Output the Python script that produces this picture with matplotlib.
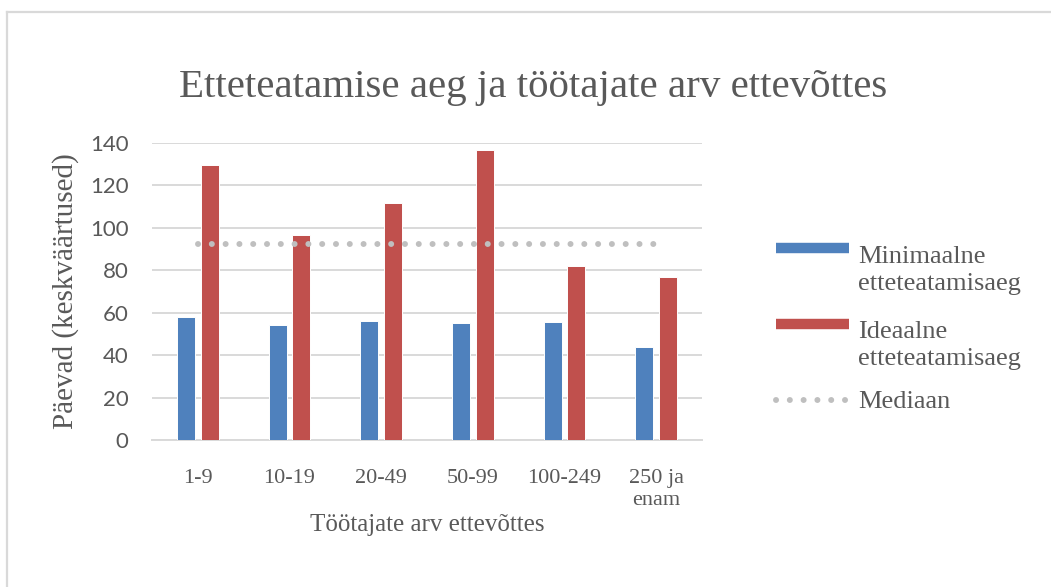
import numpy as np
import matplotlib
matplotlib.use("Agg")
import matplotlib.pyplot as plt
from matplotlib.lines import Line2D

# data
categories = ["1-9", "10-19", "20-49", "50-99", "100-249", "250 ja\nenam"]
minimaalne = [58, 54, 56, 55, 55.5, 44]
ideaalne = [129.5, 96.5, 111.5, 136.5, 82, 77]
mediaan = [92.5, 92.5, 92.5, 92.5, 92.5, 92.5]
yticks = [0, 20, 40, 60, 80, 100, 120, 140]

blue = "#4f81bd"
red = "#c0504d"
grey_txt = "#595959"
grid_col = "#d9d9d9"
serif = "Liberation Serif"

fig = plt.figure(figsize=(10.51, 5.87), dpi=100)
ax = fig.add_axes([152 / 1051, 1 - 440 / 587, 550 / 1051, 297 / 587])

x = np.arange(len(categories))
w = 0.196
ax.bar(x - 0.13, minimaalne, w, color=blue, edgecolor="white", linewidth=0.7, zorder=3)
ax.bar(x + 0.13, ideaalne, w, color=red, edgecolor="white", linewidth=0.7, zorder=3)
ax.plot(x, mediaan, color="#bfbfbf", lw=4.3, linestyle=(0, (0.01, 2.3)),
        dash_capstyle="round", zorder=4)

ax.set_xlim(-0.5, len(categories) - 0.5)
ax.set_ylim(0, 140)
ax.set_yticks(yticks)
ax.set_xticks(x)
ax.set_xticklabels(categories, fontsize=16, family=serif, color=grey_txt,
                   linespacing=1.2)
ax.set_yticklabels([str(v) for v in yticks], fontsize=16, family="Lato", color=grey_txt)
ax.tick_params(axis="both", length=0)
ax.tick_params(axis="x", pad=21)
ax.tick_params(axis="y", pad=17)

ax.yaxis.grid(True, color=grid_col, lw=1.4, zorder=0)
ax.set_axisbelow(True)
for s in ["top", "right", "left"]:
    ax.spines[s].set_visible(False)
ax.spines["bottom"].set_color(grid_col)
ax.spines["bottom"].set_linewidth(1.4)

ax.set_ylabel("Päevad (keskväärtused)", fontsize=21, family=serif, color=grey_txt)
ax.yaxis.set_label_coords(-0.158, 0.5)
ax.yaxis.label.set_va("center")
ax.set_xlabel("Töötajate arv ettevõttes", fontsize=18, family=serif, color=grey_txt)
ax.xaxis.set_label_coords(0.5, (440 - 525) / 297)
ax.xaxis.label.set_va("center")

fig.text(533 / 1051, 1 - 88 / 587, "Etteteatamise aeg ja töötajate arv ettevõttes",
         fontsize=29.5, family=serif, color=grey_txt, ha="center", va="center")

# legend drawn in figure pixels
def fx(px):
    return px / 1051

def fy(py):
    return 1 - py / 587

fig.add_artist(Line2D([fx(776), fx(849)], [fy(248), fy(248)], color=blue, lw=7.5,
                      solid_capstyle="butt"))
fig.add_artist(Line2D([fx(776), fx(849)], [fy(324), fy(324)], color=red, lw=7.5,
                      solid_capstyle="butt"))
fig.add_artist(Line2D([fx(776), fx(849)], [fy(400), fy(400)], color="#bfbfbf", lw=4.3,
                      linestyle=(0, (0.01, 2.3)), dash_capstyle="round"))
legend_lines = [("Minimaalne", 263), ("etteteatamisaeg", 290),
                ("Ideaalne", 338), ("etteteatamisaeg", 365), ("Mediaan", 408)]
for txt, py in legend_lines:
    fig.text(fx(858), fy(py), txt, fontsize=19, family=serif, color=grey_txt,
             ha="left", va="baseline")

# chart frame (left and top edges visible)
fig.add_artist(Line2D([fx(7), fx(7)], [0, fy(12)], color=grid_col, lw=1.6))
fig.add_artist(Line2D([fx(7), 1], [fy(12), fy(12)], color=grid_col, lw=1.6))

fig.savefig("out.png", dpi=100)
